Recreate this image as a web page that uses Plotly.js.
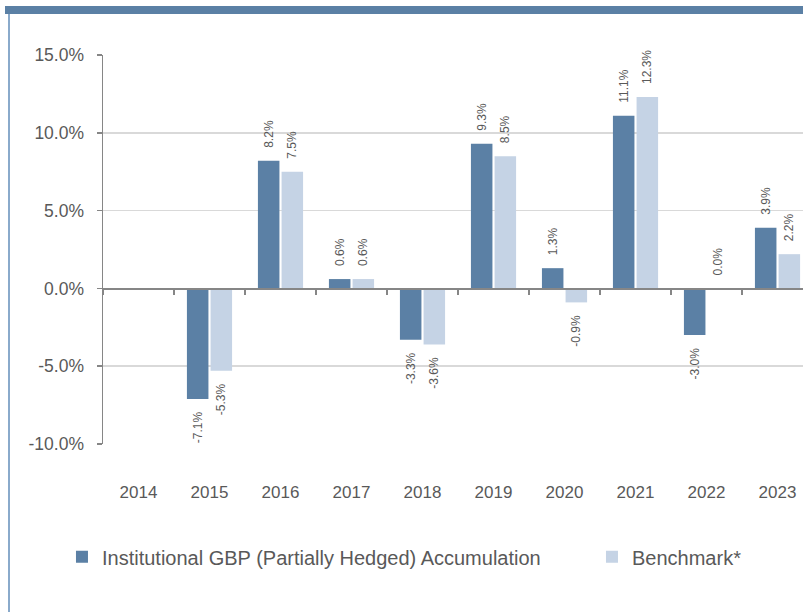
<!DOCTYPE html>
<html>
<head>
<meta charset="utf-8">
<script src="https://cdn.plot.ly/plotly-3.0.1.min.js"></script>
<style>
  html, body { margin: 0; padding: 0; background: #ffffff; overflow: hidden; }
  #wrap { position: relative; width: 803px; height: 612px; }
  #chart { position: absolute; left: 0; top: 0; width: 803px; height: 612px; }
  #band { position: absolute; left: 5px; top: 6px; width: 798px; height: 8px; background: #5b80a5; }
  #edge { position: absolute; left: 8px; top: 14px; width: 2px; height: 598px; background: #8aaacb; }
</style>
</head>
<body>
<div id="wrap">
  <div id="chart"></div>
  <div id="band"></div>
  <div id="edge"></div>
</div>
<script>
const years = ['2014', '2015', '2016', '2017', '2018', '2019', '2020', '2021', '2022', '2023'];
const fundValues = [null, -7.1, 8.2, 0.6, -3.3, 9.3, 1.3, 11.1, -3.0, 3.9];
const benchmarkValues = [null, -5.3, 7.5, 0.6, -3.6, 8.5, -0.9, 12.3, 0.0, 2.2];
const yTickValues = [-10, -5, 0, 5, 10, 15];
const fundName = 'Institutional GBP (Partially Hedged) Accumulation';
const benchmarkName = 'Benchmark*';

const textColor = '#595959';
const fontFamily = 'Liberation Sans, Arial, sans-serif';
const pad = '\u00a0\u00a0\u00a0';

function pct(v) { return v.toFixed(1) + '%'; }

function barTrace(name, values, color, legendWidth) {
  return {
    type: 'bar',
    name: name,
    x: years,
    y: values,
    marker: { color: color },
    text: values.map(v => v === null ? '' : pad + pct(v) + pad),
    textposition: 'outside',
    textangle: -90,
    constraintext: 'none',
    cliponaxis: false,
    textfont: { family: fontFamily, size: 12, color: textColor },
    legendwidth: legendWidth,
    hoverinfo: 'x+y'
  };
}

const data = [
  barTrace(fundName, fundValues, '#5b80a5', 485),
  barTrace(benchmarkName, benchmarkValues, '#c5d3e5', 120),
  {
    type: 'scatter', mode: 'markers', x: years, y: years.map(() => null),
    xaxis: 'x2', showlegend: false, hoverinfo: 'skip'
  }
];

const layout = {
  width: 803,
  height: 612,
  margin: { l: 103, r: 0, t: 54.5, b: 168, pad: 0 },
  paper_bgcolor: '#ffffff',
  plot_bgcolor: '#ffffff',
  font: { family: fontFamily, color: textColor },
  barmode: 'group',
  bargap: 0.334,
  bargroupgap: 0.09,
  showlegend: true,
  legend: {
    orientation: 'h',
    x: -0.0586, xanchor: 'left',
    y: -0.29, yanchor: 'middle',
    font: { family: fontFamily, size: 20, color: textColor },
    traceorder: 'normal'
  },
  xaxis: {
    type: 'category',
    range: [-0.5, 9.359],
    anchor: 'free',
    position: 0.4,
    showline: true,
    linecolor: '#868686',
    linewidth: 1.5,
    ticks: 'outside',
    tickson: 'boundaries',
    ticklen: 5,
    tickwidth: 1.5,
    tickcolor: '#868686',
    showticklabels: false,
    showgrid: false,
    zeroline: false,
    fixedrange: true
  },
  xaxis2: {
    type: 'category',
    matches: 'x',
    overlaying: 'x',
    anchor: 'y',
    side: 'bottom',
    showline: false,
    ticks: '',
    showgrid: false,
    zeroline: false,
    ticklabelstandoff: 36,
    tickfont: { family: fontFamily, size: 17, color: textColor }
  },
  yaxis: {
    range: [-10, 15],
    tickmode: 'array',
    tickvals: yTickValues,
    ticktext: yTickValues.map(pct),
    showline: true,
    linecolor: '#868686',
    linewidth: 1.5,
    ticks: 'outside',
    ticklen: 5,
    tickwidth: 1.5,
    tickcolor: '#868686',
    ticklabelstandoff: 9,
    showgrid: true,
    gridcolor: '#d9d9d9',
    gridwidth: 1.5,
    zeroline: false,
    tickfont: { family: fontFamily, size: 17.5, color: textColor },
    fixedrange: true
  }
};

Plotly.newPlot('chart', data, layout, { displayModeBar: false, staticPlot: true });
</script>
</body>
</html>
